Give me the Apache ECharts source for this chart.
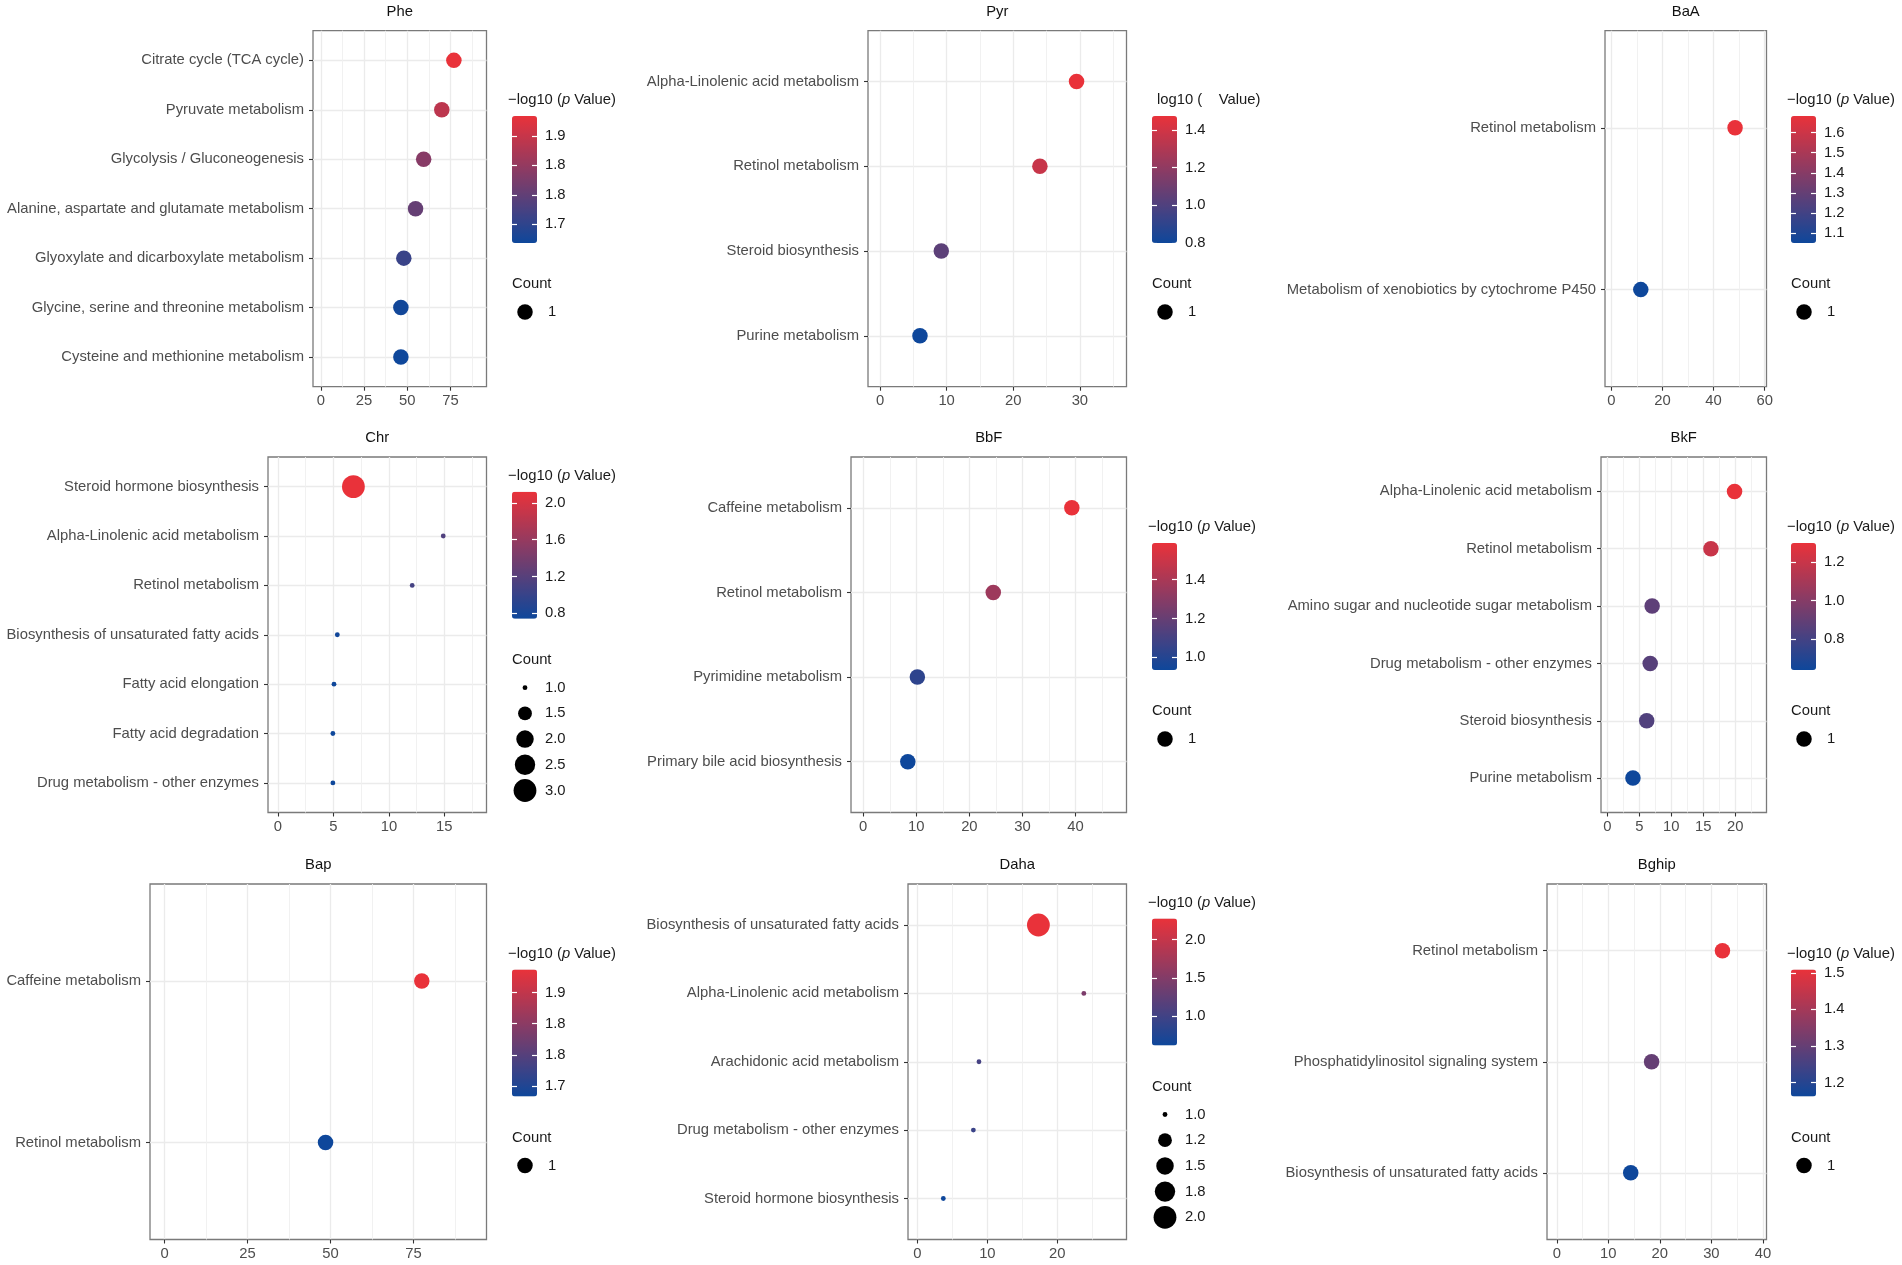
<!DOCTYPE html>
<html>
<head>
<meta charset="utf-8">
<script src="https://cdn.jsdelivr.net/npm/echarts@6.0.0/dist/echarts.min.js"></script>
<style>
html, body { margin: 0; background: #fff; }
#chart { width: 1902px; height: 1265px; }
</style>
</head>
<body>
<div id="chart"></div>
<script>
// ---- data ----
const pheTerms = ['Citrate cycle (TCA cycle)', 'Pyruvate metabolism', 'Glycolysis / Gluconeogenesis',
  'Alanine, aspartate and glutamate metabolism', 'Glyoxylate and dicarboxylate metabolism',
  'Glycine, serine and threonine metabolism', 'Cysteine and methionine metabolism'];
const pheX = [77, 70, 59.5, 54.8, 48, 46.3, 46.3];
const pheP = [1.884, 1.84, 1.787, 1.754, 1.71, 1.672, 1.668];
const pheCount = [1, 1, 1, 1, 1, 1, 1];
const pheXTicks = [0, 25, 50, 75];
const phePBreaks = [1.70, 1.75, 1.80, 1.85];
const phePLabels = ['1.7', '1.8', '1.8', '1.9'];

const pyrTerms = ['Alpha-Linolenic acid metabolism', 'Retinol metabolism', 'Steroid biosynthesis', 'Purine metabolism'];
const pyrX = [29.5, 24.0, 9.2, 6.0];
const pyrP = [1.474, 1.37, 1.04, 0.799];
const pyrCount = [1, 1, 1, 1];
const pyrXTicks = [0, 10, 20, 30];
const pyrPBreaks = [0.8, 1.0, 1.2, 1.4];
const pyrPLabels = ['0.8', '1.0', '1.2', '1.4'];

const baaTerms = ['Retinol metabolism', 'Metabolism of xenobiotics by cytochrome P450'];
const baaX = [48.4, 11.5];
const baaP = [1.683, 1.05];
const baaCount = [1, 1];
const baaXTicks = [0, 20, 40, 60];
const baaPBreaks = [1.1, 1.2, 1.3, 1.4, 1.5, 1.6];
const baaPLabels = ['1.1', '1.2', '1.3', '1.4', '1.5', '1.6'];

const chrTerms = ['Steroid hormone biosynthesis', 'Alpha-Linolenic acid metabolism', 'Retinol metabolism',
  'Biosynthesis of unsaturated fatty acids', 'Fatty acid elongation', 'Fatty acid degradation',
  'Drug metabolism - other enzymes'];
const chrX = [6.8, 14.9, 12.1, 5.35, 5.05, 4.95, 4.95];
const chrP = [2.12, 1.155, 1.09, 0.76, 0.75, 0.745, 0.742];
const chrCount = [3, 1, 1, 1, 1, 1, 1];
const chrXTicks = [0, 5, 10, 15];
const chrPBreaks = [0.8, 1.2, 1.6, 2.0];
const chrPLabels = ['0.8', '1.2', '1.6', '2.0'];
const chrCountBreaks = [1.0, 1.5, 2.0, 2.5, 3.0];
const chrCountLabels = ['1.0', '1.5', '2.0', '2.5', '3.0'];

const bbfTerms = ['Caffeine metabolism', 'Retinol metabolism', 'Pyrimidine metabolism', 'Primary bile acid biosynthesis'];
const bbfX = [39.3, 24.5, 10.2, 8.4];
const bbfP = [1.588, 1.36, 1.03, 0.935];
const bbfCount = [1, 1, 1, 1];
const bbfXTicks = [0, 10, 20, 30, 40];
const bbfPBreaks = [1.0, 1.2, 1.4];
const bbfPLabels = ['1.0', '1.2', '1.4'];

const bkfTerms = ['Alpha-Linolenic acid metabolism', 'Retinol metabolism', 'Amino sugar and nucleotide sugar metabolism',
  'Drug metabolism - other enzymes', 'Steroid biosynthesis', 'Purine metabolism'];
const bkfX = [19.9, 16.2, 7.0, 6.7, 6.15, 4.0];
const bkfP = [1.30, 1.20, 0.88, 0.86, 0.84, 0.638];
const bkfCount = [1, 1, 1, 1, 1, 1];
const bkfXTicks = [0, 5, 10, 15, 20];
const bkfPBreaks = [0.8, 1.0, 1.2];
const bkfPLabels = ['0.8', '1.0', '1.2'];

const bapTerms = ['Caffeine metabolism', 'Retinol metabolism'];
const bapX = [77.5, 48.5];
const bapP = [1.887, 1.683];
const bapCount = [1, 1];
const bapXTicks = [0, 25, 50, 75];
const bapPBreaks = [1.70, 1.75, 1.80, 1.85];
const bapPLabels = ['1.7', '1.8', '1.8', '1.9'];

const dahaTerms = ['Biosynthesis of unsaturated fatty acids', 'Alpha-Linolenic acid metabolism',
  'Arachidonic acid metabolism', 'Drug metabolism - other enzymes', 'Steroid hormone biosynthesis'];
const dahaX = [17.3, 23.8, 8.8, 8.0, 3.7];
const dahaP = [2.275, 1.45, 1.03, 0.95, 0.617];
const dahaCount = [2, 1, 1, 1, 1];
const dahaXTicks = [0, 10, 20];
const dahaPBreaks = [1.0, 1.5, 2.0];
const dahaPLabels = ['1.0', '1.5', '2.0'];
const dahaCountBreaks = [1.0, 1.25, 1.5, 1.75, 2.0];
const dahaCountLabels = ['1.0', '1.2', '1.5', '1.8', '2.0'];

const bghipTerms = ['Retinol metabolism', 'Phosphatidylinositol signaling system', 'Biosynthesis of unsaturated fatty acids'];
const bghipX = [32.15, 18.4, 14.35];
const bghipP = [1.509, 1.30, 1.162];
const bghipCount = [1, 1, 1];
const bghipXTicks = [0, 10, 20, 30, 40];
const bghipPBreaks = [1.2, 1.3, 1.4, 1.5];
const bghipPLabels = ['1.2', '1.3', '1.4', '1.5'];

// ---- layout ----
const F = '"Liberation Sans", Arial, Helvetica, sans-serif';
const FS = 14.8;
const LOW = '#0e479b', HIGH = '#e9323a';
const BAR_W = 25, BAR_H = 127;

const panels = [
  { name: 'Phe', terms: pheTerms, x: pheX, p: pheP, count: pheCount, xTicks: pheXTicks, pBreaks: phePBreaks, pLabels: phePLabels,
    box: [313, 30.7, 486.5, 386.7], xMin: -4.6, xMax: 95.9, xMinor: [12.5, 37.5, 62.5, 87.5], barLeft: 512, barTop: 116, titleY: 12 },
  { name: 'Pyr', terms: pyrTerms, x: pyrX, p: pyrP, count: pyrCount, xTicks: pyrXTicks, pBreaks: pyrPBreaks, pLabels: pyrPLabels,
    box: [868, 30.7, 1126.5, 386.7], xMin: -1.8, xMax: 37.0, xMinor: [5, 15, 25, 35], barLeft: 1152, barTop: 116, titleY: 12,
    legendTitle: 'log10 (    Value)', legendTitleX: 1157 },
  { name: 'BaA', terms: baaTerms, x: baaX, p: baaP, count: baaCount, xTicks: baaXTicks, pBreaks: baaPBreaks, pLabels: baaPLabels,
    box: [1605, 30.7, 1766.5, 386.7], xMin: -2.5, xMax: 60.7, xMinor: [10, 30, 50], barLeft: 1791, barTop: 116, titleY: 12 },
  { name: 'Chr', terms: chrTerms, x: chrX, p: chrP, count: chrCount, xTicks: chrXTicks, pBreaks: chrPBreaks, pLabels: chrPLabels,
    countBreaks: chrCountBreaks, countLabels: chrCountLabels,
    box: [268, 457, 486.5, 812.5], xMin: -0.9, xMax: 18.8, xMinor: [2.5, 7.5, 12.5, 17.5], barLeft: 512, barTop: 491.7, titleY: 438 },
  { name: 'BbF', terms: bbfTerms, x: bbfX, p: bbfP, count: bbfCount, xTicks: bbfXTicks, pBreaks: bbfPBreaks, pLabels: bbfPLabels,
    box: [851, 457, 1126.5, 812.5], xMin: -2.3, xMax: 49.6, xMinor: [5, 15, 25, 35, 45], barLeft: 1152, barTop: 543, titleY: 438 },
  { name: 'BkF', terms: bkfTerms, x: bkfX, p: bkfP, count: bkfCount, xTicks: bkfXTicks, pBreaks: bkfPBreaks, pLabels: bkfPLabels,
    box: [1601, 457, 1766.5, 812.5], xMin: -1.0, xMax: 24.9, xMinor: [2.5, 7.5, 12.5, 17.5, 22.5], barLeft: 1791, barTop: 543, titleY: 438 },
  { name: 'Bap', terms: bapTerms, x: bapX, p: bapP, count: bapCount, xTicks: bapXTicks, pBreaks: bapPBreaks, pLabels: bapPLabels,
    box: [150, 884, 486.5, 1239.5], xMin: -4.4, xMax: 97, xMinor: [12.5, 37.5, 62.5, 87.5], barLeft: 512, barTop: 969.5, titleY: 865 },
  { name: 'Daha', terms: dahaTerms, x: dahaX, p: dahaP, count: dahaCount, xTicks: dahaXTicks, pBreaks: dahaPBreaks, pLabels: dahaPLabels,
    countBreaks: dahaCountBreaks, countLabels: dahaCountLabels,
    box: [908, 884, 1126.5, 1239.5], xMin: -1.35, xMax: 29.9, xMinor: [5, 15, 25], barLeft: 1152, barTop: 918.5, titleY: 865 },
  { name: 'Bghip', terms: bghipTerms, x: bghipX, p: bghipP, count: bghipCount, xTicks: bghipXTicks, pBreaks: bghipPBreaks, pLabels: bghipPLabels,
    box: [1547, 884, 1766.5, 1239.5], xMin: -1.9, xMax: 40.7, xMinor: [5, 15, 25, 35], barLeft: 1791, barTop: 969.5, titleY: 865 }
];

// ggplot-like area scale for point size (diameter in px)
function sizeScale(counts) {
  const lo = Math.min(...counts), hi = Math.max(...counts);
  return function (c) {
    if (hi === lo) return 15.5;
    return 3.6 * (1 + 5 * Math.sqrt((c - lo) / (hi - lo))) + 1.2;
  };
}

function labelFor(breaks, labels) {
  return function (v) {
    const k = breaks.findIndex(b => Math.abs(b - v) < 1e-9);
    return k < 0 ? '' : labels[k];
  };
}

function txt(x, y, text, opts) {
  opts = opts || {};
  return {
    type: 'text', x: x, y: y, silent: true, z: 20,
    style: Object.assign({
      text: text, fill: '#1a1a1a', font: FS + 'px ' + F, fontSize: FS, fontFamily: F,
      textAlign: 'left', align: 'left', textVerticalAlign: 'middle', verticalAlign: 'middle'
    }, opts)
  };
}

const grid = [], xAxis = [], yAxis = [], series = [], visualMap = [], graphic = [];
const N = panels.length;

panels.forEach(function (pn, i) {
  const [L, T, R, B] = pn.box;
  const n = pn.terms.length;
  const cats = Array.from({ length: n }, (_, k) => k + 1);
  const pMin = Math.min(...pn.p), pMax = Math.max(...pn.p);
  const size = sizeScale(pn.count);

  grid.push({ left: L, top: T, width: R - L, height: B - T, show: true,
    borderColor: '#7a7a7a', borderWidth: 1.3, backgroundColor: 'transparent' });

  // major x axis
  xAxis.push({
    gridIndex: i, type: 'value', min: pn.xMin, max: pn.xMax, position: 'bottom',
    axisLine: { show: false, onZero: false },
    axisTick: { show: true, length: 4, lineStyle: { color: '#333', width: 1.1 }, customValues: pn.xTicks },
    axisLabel: { customValues: pn.xTicks, color: '#4d4d4d', fontSize: FS, fontFamily: F, margin: 7 },
    splitLine: { show: true, lineStyle: { color: '#ebebeb', width: 1.3 } }
  });
  // minor x grid lines
  xAxis.push({
    gridIndex: i, type: 'value', min: pn.xMin, max: pn.xMax, position: 'bottom',
    axisLine: { show: false, onZero: false },
    axisTick: { show: false, customValues: pn.xMinor },
    axisLabel: { show: false },
    splitLine: { show: true, lineStyle: { color: '#efefef', width: 0.9 } }
  });

  yAxis.push({
    gridIndex: i, type: 'value', min: 0.4, max: n + 0.6, position: 'left',
    axisLine: { show: false, onZero: false },
    axisTick: { show: true, length: 4, lineStyle: { color: '#333', width: 1.1 }, customValues: cats },
    axisLabel: { customValues: cats, color: '#4d4d4d', fontSize: FS, fontFamily: F, margin: 9,
      formatter: v => pn.terms[n - Math.round(v)] },
    splitLine: { show: true, lineStyle: { color: '#ebebeb', width: 1.3 } }
  });

  series.push({
    type: 'scatter', xAxisIndex: 2 * i, yAxisIndex: i,
    data: pn.terms.map((t, k) => [pn.x[k], n - k, pn.p[k], pn.count[k], t]),
    symbol: 'circle',
    symbolSize: v => size(v[3]),
    itemStyle: { opacity: 1 },
    emphasis: { disabled: true },
    z: 5
  });

  visualMap.push({
    type: 'continuous', seriesIndex: i, dimension: 2, min: pMin, max: pMax,
    inRange: { color: [LOW, HIGH] },
    orient: 'vertical', left: pn.barLeft, top: pn.barTop,
    itemWidth: BAR_W, itemHeight: BAR_H, padding: 0,
    calculable: false, hoverLink: false, realtime: false
  });

  // panel title
  graphic.push(txt((L + R) / 2, pn.titleY, pn.name, { textAlign: 'center', align: 'center', fill: '#111' }));

  // colour legend title
  const lt = pn.legendTitle || '\u2212log10 ({i|p} Value)';
  graphic.push(txt(pn.legendTitleX || pn.barLeft - 4, pn.barTop - 16, lt, {
    rich: { i: { fontStyle: 'italic', fontSize: FS, fontFamily: F, fill: '#1a1a1a', color: '#1a1a1a' } }
  }));

  // size legend
  graphic.push(txt(pn.barLeft, pn.barTop + 168, 'Count'));
  const kb = pn.countBreaks || [1];
  const kl = pn.countLabels || ['1'];
  kb.forEach(function (c, k) {
    const cy = pn.barTop + 196 + k * 25.7;
    const d = pn.countBreaks ? size(c) : size(1);
    graphic.push({ type: 'circle', x: pn.barLeft + 13, y: cy, silent: true, z: 20,
      shape: { cx: 0, cy: 0, r: d / 2 }, style: { fill: '#000' } });
    graphic.push(txt(pn.barLeft + (pn.countBreaks ? 33 : 36), cy, kl[k]));
  });
});

// colour bar tick axes (labels and white ticks) aligned to each visualMap bar
panels.forEach(function (pn, i) {
  const g = N + i;
  const pMin = Math.min(...pn.p), pMax = Math.max(...pn.p);
  grid.push({ left: pn.barLeft, top: pn.barTop, width: BAR_W, height: BAR_H, show: false });
  xAxis.push({ gridIndex: g, type: 'value', show: false });
  const tick = { show: true, inside: true, length: 5, lineStyle: { color: '#ffffff', width: 1.2 }, customValues: pn.pBreaks };
  yAxis.push({
    gridIndex: g, type: 'value', position: 'right', min: pMin, max: pMax, z: 10,
    axisLine: { show: false, onZero: false }, axisTick: tick,
    axisLabel: { customValues: pn.pBreaks, formatter: labelFor(pn.pBreaks, pn.pLabels),
      color: '#1a1a1a', fontSize: FS, fontFamily: F, margin: 8 },
    splitLine: { show: false }
  });
  yAxis.push({
    gridIndex: g, type: 'value', position: 'left', min: pMin, max: pMax, z: 10,
    axisLine: { show: false, onZero: false }, axisTick: tick,
    axisLabel: { show: false }, splitLine: { show: false }
  });
});

const chart = echarts.init(document.getElementById('chart'));
chart.setOption({
  backgroundColor: '#ffffff',
  animation: false,
  textStyle: { fontFamily: F },
  grid: grid,
  xAxis: xAxis,
  yAxis: yAxis,
  visualMap: visualMap,
  series: series,
  graphic: graphic
});
</script>
</body>
</html>
